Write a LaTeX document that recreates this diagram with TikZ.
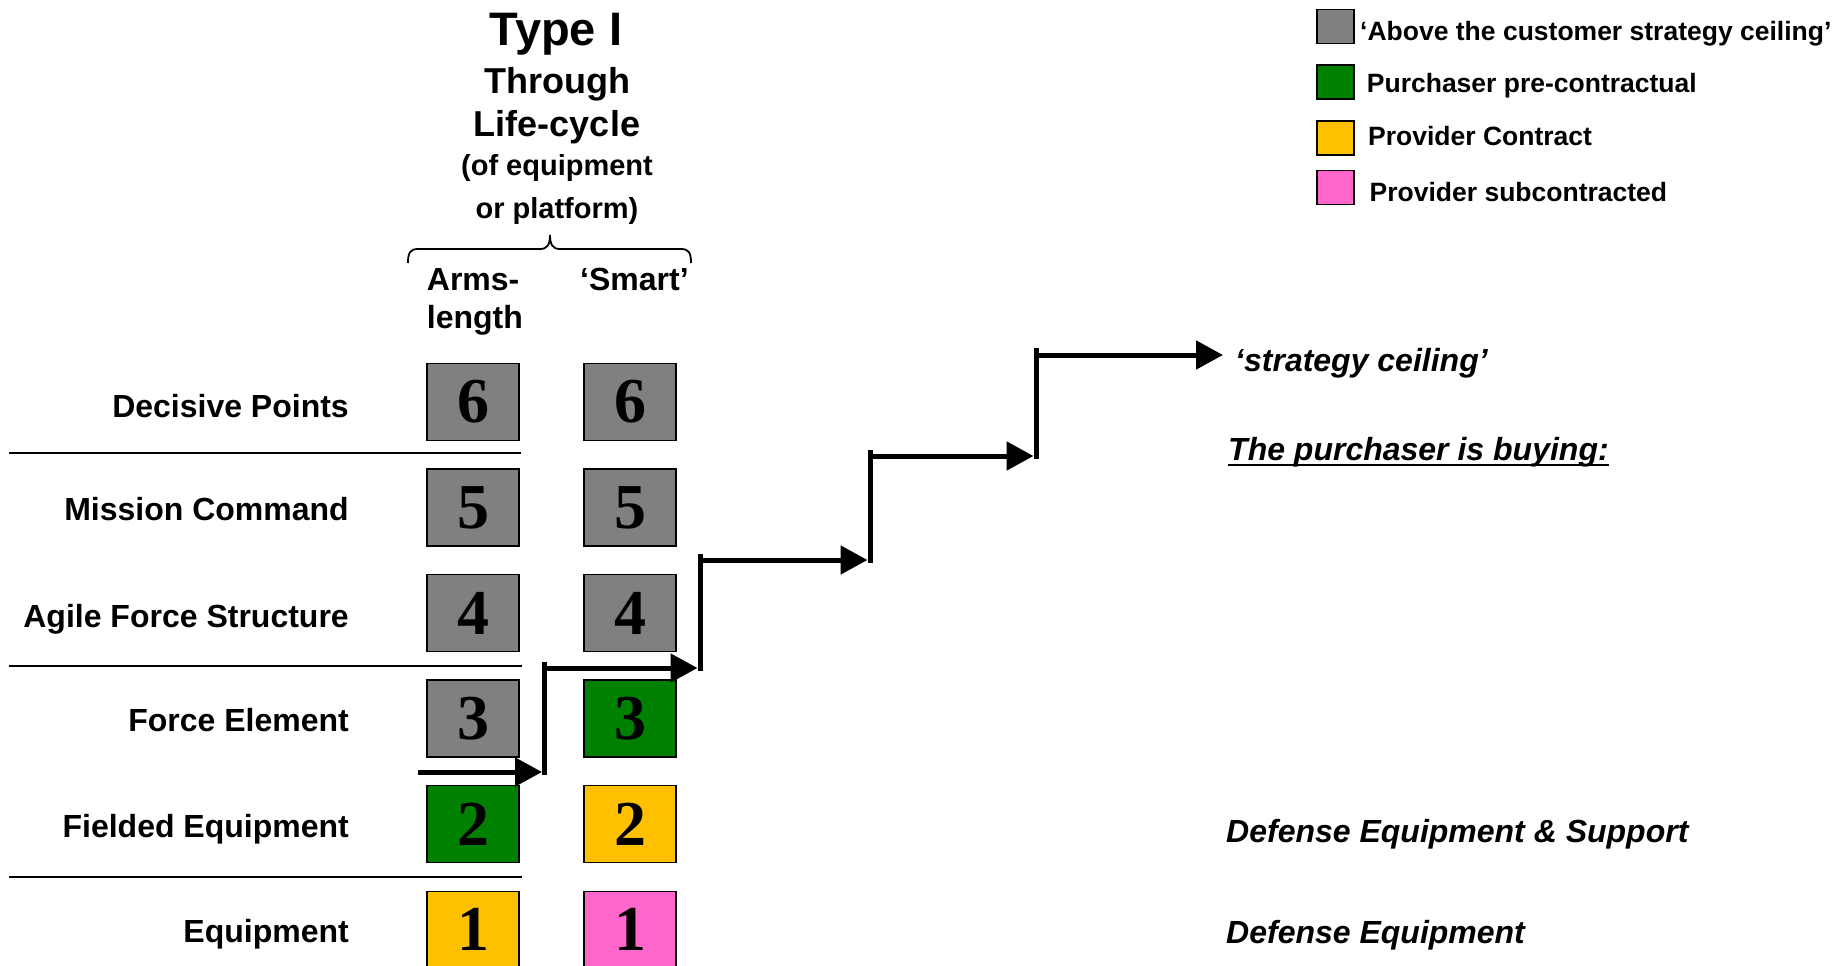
\documentclass[tikz,border=0pt]{standalone}
\usepackage{fontspec}
\setmainfont{Liberation Sans}
\newfontfamily\serifnum{Liberation Serif}
\usetikzlibrary{arrows.meta}
\definecolor{boxgray}{RGB}{128,128,128}
\definecolor{boxgreen}{RGB}{0,128,0}
\definecolor{boxyellow}{RGB}{255,192,0}
\definecolor{boxpink}{RGB}{255,102,204}
\begin{document}
\begin{tikzpicture}[x=1pt,y=-1pt,
  numbox/.style={draw=black, line width=1.5pt, minimum width=92pt, minimum height=77pt, inner sep=0pt,
    font=\serifnum\bfseries\fontsize{64}{64}\selectfont},
  rowlabel/.style={anchor=base east, inner sep=0pt, font=\bfseries\fontsize{32}{38}\selectfont},
  toptext/.style={anchor=base, inner sep=0pt},
  colhead/.style={anchor=base west, inner sep=0pt, font=\bfseries\fontsize{32}{38}\selectfont},
  righttext/.style={anchor=base west, inner sep=0pt, font=\bfseries\itshape\fontsize{32}{38}\selectfont},
  legbox/.style={draw=black, line width=1.2pt, minimum width=37pt, minimum height=34pt, inner sep=0pt},
  legtext/.style={anchor=base west, inner sep=0pt, font=\bfseries\fontsize{26.5}{30}\selectfont},
  sepline/.style={line width=2pt},
  steparrow/.style={line width=5pt, -{Triangle[length=27pt,width=28pt]}},
  stepline/.style={line width=5pt},
]
\useasboundingbox (0,0) rectangle (1848,966);

% title
\node[toptext, font=\bfseries\fontsize{47}{50}\selectfont] (t1) at (556,45.7) {Type I};
\node[toptext, font=\bfseries\fontsize{36}{40}\selectfont] (t2) at (557,94) {Through};
\node[toptext, font=\bfseries\fontsize{36}{40}\selectfont] (t3) at (557,136.7) {Life-cycle};
\node[toptext, font=\bfseries\fontsize{29}{32}\selectfont] (t4) at (557,175) {(of equipment};
\node[toptext, font=\bfseries\fontsize{29}{32}\selectfont] (t5) at (557,218) {or platform)};

% brace
\draw[line width=1.8pt] (408,263) .. controls (408,253) and (410,249) .. (418,249) -- (540,249)
  .. controls (547,249) and (550,245) .. (550,235)
  .. controls (550,245) and (553,249) .. (560,249) -- (681,249)
  .. controls (689,249) and (691,253) .. (691,263);

% column heads
\node[colhead] (h1) at (426.7,290) {Arms-};
\node[colhead] (h2) at (426.7,328.5) {length};
\node[colhead] (h3) at (580,290) {‘Smart’};

% row labels
\node[rowlabel] (r6) at (349,417) {Decisive Points};
\node[rowlabel] (r5) at (349,520) {Mission Command};
\node[rowlabel] (r4) at (349,627) {Agile Force Structure};
\node[rowlabel] (r3) at (349,731.6) {Force Element};
\node[rowlabel] (r2) at (349,837.2) {Fielded Equipment};
\node[rowlabel] (r1) at (349,942.8) {Equipment};

% separators
\draw[sepline] (9.4,452.8) -- (520.5,452.8);
\draw[sepline] (9.4,665.5) -- (522,665.5);
\draw[sepline] (9.4,876.9) -- (522,876.9);

% boxes
\node[numbox, fill=boxgray]   (L6) at (473,401.8) {6};
\node[numbox, fill=boxgray]   (R6) at (630,401.8) {6};
\node[numbox, fill=boxgray]   (L5) at (473,507.4) {5};
\node[numbox, fill=boxgray]   (R5) at (630,507.4) {5};
\node[numbox, fill=boxgray]   (L4) at (473,613) {4};
\node[numbox, fill=boxgray]   (R4) at (630,613) {4};
\node[numbox, fill=boxgray]   (L3) at (473,718.6) {3};
\node[numbox, fill=boxgreen]  (R3) at (630,718.6) {3};
\node[numbox, fill=boxgreen]  (L2) at (473,824.2) {2};
\node[numbox, fill=boxyellow] (R2) at (630,824.2) {2};
\node[numbox, fill=boxyellow] (L1) at (473,929.8) {1};
\node[numbox, fill=boxpink]   (R1) at (630,929.8) {1};

% staircase
\coordinate (s0) at (418,772);
\coordinate (s1) at (542,772);
\coordinate (v1b) at (544.5,775);
\coordinate (v1t) at (544.5,662);
\coordinate (s2a) at (544.5,668);
\coordinate (s2) at (697.5,668);
\coordinate (v2b) at (700,670.5);
\coordinate (v2t) at (700,554);
\coordinate (s3a) at (700,560);
\coordinate (s3) at (867.5,560);
\coordinate (v3b) at (870,562.5);
\coordinate (v3t) at (870,450);
\coordinate (s4a) at (870,456);
\coordinate (s4) at (1033.5,456);
\coordinate (v4b) at (1036,458.5);
\coordinate (v4t) at (1036,348);
\coordinate (s5a) at (1036,355);
\coordinate (s5) at (1223,355);
\draw[steparrow] (s0) -- (s1);
\draw[stepline] (v1b) -- (v1t);
\draw[steparrow] (s2a) -- (s2);
\draw[stepline] (v2b) -- (v2t);
\draw[steparrow] (s3a) -- (s3);
\draw[stepline] (v3b) -- (v3t);
\draw[steparrow] (s4a) -- (s4);
\draw[stepline] (v4b) -- (v4t);
\draw[steparrow] (s5a) -- (s5);

% right texts
\node[righttext] (sc) at (1235,371) {‘strategy ceiling’};
\node[righttext] (pb) at (1228,460) {The purchaser is buying:};
\draw[line width=2.5pt] ([yshift=-5pt]pb.base west) -- ([yshift=-5pt]pb.base east);
\node[righttext] (des) at (1226,842) {Defense Equipment \& Support};
\node[righttext] (de) at (1226,943) {Defense Equipment};

% legend
\node[legbox, fill=boxgray]   (k1) at (1335.5,26.3) {};
\node[legbox, fill=boxgreen]  (k2) at (1335.5,82) {};
\node[legbox, fill=boxyellow] (k3) at (1335.5,138) {};
\node[legbox, fill=boxpink]   (k4) at (1335.5,187.7) {};
\node[legtext] (g1) at (1360,41) {‘Above the customer strategy ceiling’};
\node[legtext] (g2) at (1366.7,92.5) {Purchaser pre-contractual};
\node[legtext] (g3) at (1368,145.5) {Provider Contract};
\node[legtext] (g4) at (1369.5,201) {Provider subcontracted};
\end{tikzpicture}
\end{document}
